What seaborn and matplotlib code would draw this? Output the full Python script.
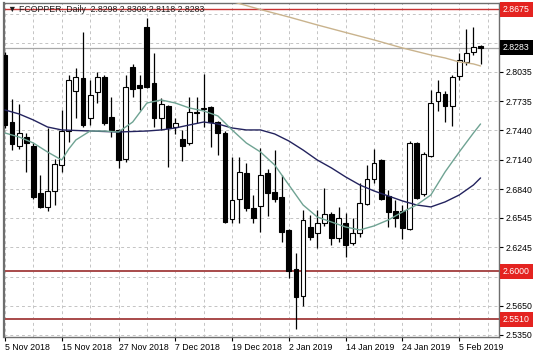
import matplotlib
matplotlib.use("Agg")
import matplotlib.pyplot as plt
import seaborn as sns
import numpy as np
import pandas as pd

# ---- data ----
opens = [2.8208, 2.7524, 2.7279, 2.7371, 2.7279, 2.6800, 2.6657, 2.6820, 2.7085, 2.7433,
         2.7841, 2.7974, 2.7565, 2.7831, 2.7984, 2.7575, 2.7443, 2.7147, 2.8086, 2.7902,
         2.8494, 2.7923, 2.7565, 2.7688, 2.7473, 2.7351, 2.7310, 2.7630, 2.7657, 2.7678,
         2.7524, 2.7412, 2.6534, 2.6738, 2.7004, 2.6646, 2.6667, 2.7004, 2.6810, 2.6759,
         2.6422, 2.6024, 2.5748, 2.6452, 2.6391, 2.6493, 2.6585, 2.6340, 2.6493, 2.6289,
         2.6391, 2.6687, 2.6942, 2.7136, 2.6769, 2.6616, 2.6616, 2.6432, 2.7310, 2.6789,
         2.7177, 2.7739, 2.7810, 2.7688, 2.7994, 2.8137, 2.8239, 2.8298]
highs = [2.8239, 2.7759, 2.7708, 2.7412, 2.7310, 2.6983, 2.7463, 2.7147, 2.7647, 2.8004,
         2.8076, 2.8443, 2.7953, 2.8035, 2.8004, 2.7780, 2.7453, 2.8004, 2.8117, 2.8004,
         2.8586, 2.8229, 2.7770, 2.7698, 2.7565, 2.7443, 2.7780, 2.7780, 2.8014, 2.7688,
         2.7535, 2.7433, 2.7167, 2.7167, 2.7106, 2.6779, 2.7259, 2.7045, 2.7238, 2.6983,
         2.6432, 2.6187, 2.6626, 2.6575, 2.6626, 2.6851, 2.6606, 2.6657, 2.6595, 2.6544,
         2.6902, 2.7085, 2.7249, 2.7150, 2.6830, 2.6728, 2.6677, 2.7325, 2.7320, 2.7218,
         2.7851, 2.7953, 2.7841, 2.8004, 2.8229, 2.8474, 2.8494, 2.8308]
lows = [2.7463, 2.7239, 2.7249, 2.7014, 2.6738, 2.6646, 2.6616, 2.6677, 2.7014, 2.7320,
        2.7565, 2.7473, 2.7494, 2.7718, 2.7494, 2.7371, 2.7055, 2.7116, 2.7780, 2.7647,
        2.7872, 2.7473, 2.7443, 2.7065, 2.7402, 2.7126, 2.7290, 2.7514, 2.7473, 2.7269,
        2.7187, 2.6493, 2.6493, 2.6493, 2.6616, 2.6493, 2.6401, 2.6565, 2.6708, 2.6299,
        2.5932, 2.5411, 2.5646, 2.6320, 2.6238, 2.6463, 2.6269, 2.6299, 2.6146, 2.6269,
        2.6350, 2.6677, 2.6902, 2.6728, 2.6452, 2.6452, 2.6330, 2.6422, 2.6738, 2.6769,
        2.7167, 2.7637, 2.7524, 2.7484, 2.7953, 2.8106, 2.8208, 2.8118]
closes = [2.7494, 2.7300, 2.7412, 2.7310, 2.6759, 2.6657, 2.6820, 2.7096, 2.7433, 2.7953,
          2.7984, 2.7494, 2.7800, 2.7984, 2.7514, 2.7443, 2.7136, 2.7882, 2.7861, 2.7872,
          2.7882, 2.7565, 2.7708, 2.7463, 2.7514, 2.7279, 2.7626, 2.7612, 2.7667, 2.7524,
          2.7412, 2.6503, 2.6728, 2.7014, 2.6646, 2.6544, 2.6983, 2.6800, 2.6738, 2.6401,
          2.6003, 2.5738, 2.6524, 2.6350, 2.6493, 2.6585, 2.6340, 2.6544, 2.6269, 2.6391,
          2.6697, 2.6942, 2.7106, 2.6738, 2.6606, 2.6544, 2.6442, 2.7310, 2.6748, 2.7198,
          2.7718, 2.7831, 2.7688, 2.7984, 2.8157, 2.8229, 2.8290, 2.8283]

date_labels = ["5 Nov 2018", "15 Nov 2018", "27 Nov 2018", "7 Dec 2018", "19 Dec 2018",
               "2 Jan 2019", "14 Jan 2019", "24 Jan 2019", "5 Feb 2019"]
date_label_bars = [0, 8, 16, 24, 32, 40, 48, 56, 64]

slow_ma_bars = [0, 2, 4, 6, 8, 12, 16, 20, 22, 24, 26, 28, 30, 32, 34, 36, 38, 40, 42, 44,
                46, 48, 50, 52, 54, 56, 58, 60, 62, 64, 66, 67]
slow_ma = [2.7647, 2.7606, 2.7545, 2.7473, 2.7443, 2.7432, 2.7422, 2.7432, 2.7443, 2.7463,
           2.7494, 2.7524, 2.7504, 2.7463, 2.7443, 2.7443, 2.7402, 2.7330, 2.7238, 2.7136,
           2.7055, 2.6963, 2.6881, 2.6820, 2.6769, 2.6718, 2.6677, 2.6657, 2.6708, 2.6779,
           2.6881, 2.6953]

fast_ma_bars = [0, 2, 4, 6, 8, 9, 10, 12, 14, 16, 18, 20, 22, 24, 26, 28, 30, 32, 34, 36,
                38, 40, 42, 44, 46, 48, 50, 52, 54, 56, 58, 60, 62, 64, 66, 67]
fast_ma = [2.7412, 2.7371, 2.7310, 2.7218, 2.7136, 2.7249, 2.7341, 2.7432, 2.7432, 2.7422,
           2.7524, 2.7718, 2.7749, 2.7718, 2.7667, 2.7637, 2.7586, 2.7443, 2.7310, 2.7218,
           2.7085, 2.6881, 2.6677, 2.6554, 2.6503, 2.6452, 2.6422, 2.6463, 2.6524, 2.6605,
           2.6677, 2.6779, 2.7014, 2.7218, 2.7412, 2.7504]

long_ma_bars = [31, 36, 40, 44, 48, 52, 56, 60, 62, 64, 66, 67]
long_ma = [2.8775, 2.8672, 2.8596, 2.8515, 2.8438, 2.8362, 2.8280, 2.8208, 2.8178, 2.8137,
           2.8117, 2.8096]

grid_levels = [2.8630, 2.8335, 2.8035, 2.7735, 2.7440, 2.7140, 2.6840, 2.6545, 2.6245,
               2.5945, 2.5650, 2.5350]
hidden_levels = [2.8630, 2.8335, 2.5945]   # labels covered by the price boxes
red_levels = [2.8675, 2.6000, 2.5510]
bid_level = 2.8283
symbol_text = "FCOPPER.,Daily"

# ---- drawing ----
sns.set_style("white")
plt.rcParams['font.family'] = ['Liberation Sans', 'DejaVu Sans']

fig = plt.figure(figsize=(5.36, 3.58), dpi=100)
fig.patch.set_facecolor("white")
ax = fig.add_axes([3.5 / 536, 21 / 358, 495.5 / 536, 334 / 358])

df = pd.DataFrame({"o": opens, "h": highs, "l": lows, "c": closes})
df["bar"] = np.arange(len(df))

# horizontal lines
for k, lv in enumerate(red_levels):
    ax.axhline(lv, color="#c83232" if k == 0 else "#a84a4a", lw=1.4 if k else 1.0, zorder=1.2)
ax.axhline(bid_level, color="#a8a8a8", lw=0.9, zorder=1.2)

# candles
ax.vlines(df["bar"], df["l"], df["h"], color="black", lw=0.9, zorder=3)
body_bottom = np.minimum(df["o"], df["c"])
body_h = np.abs(df["c"] - df["o"])
body_col = ["black" if c < o else "white" for o, c in zip(df["o"], df["c"])]
ax.bar(df["bar"], body_h, bottom=body_bottom, width=0.68, color=body_col,
       edgecolor="black", linewidth=0.8, zorder=4)

# moving averages
sns.lineplot(x=long_ma_bars, y=long_ma, ax=ax, color="#c9b38d", lw=1.0, zorder=5)
sns.lineplot(x=slow_ma_bars, y=slow_ma, ax=ax, color="#23235e", lw=1.0, zorder=5)
sns.lineplot(x=fast_ma_bars, y=fast_ma, ax=ax, color="#6fa393", lw=1.0, zorder=5)

ax.set_xlim(-0.2, 69.6)
ax.set_ylim(2.5329, 2.8739)

# y axis on right
ax.yaxis.tick_right()
ax.set_yticks(grid_levels)
ax.set_yticklabels(["" if v in hidden_levels else f"{v:.4f}" for v in grid_levels])
ax.tick_params(axis="y", which="both", right=True, left=False, length=3, width=0.8,
               pad=1.5, labelsize=6.3, colors="black")

# x axis
ax.set_xticks(date_label_bars)
ax.set_xticklabels(date_labels)
ax.set_xticks(np.arange(0, 70, 4), minor=True)
ax.tick_params(axis="x", which="major", bottom=True, length=3, width=0.8, pad=1.5,
               labelsize=6.3, colors="black")
ax.tick_params(axis="x", which="minor", length=0)
for t in ax.get_xticklabels():
    t.set_ha("left")

ax.set_xlabel("")
ax.set_ylabel("")

# grid
ax.set_axisbelow(True)
ax.grid(True, axis="y", which="major", color="#c4c4c4", lw=0.7, ls=(0, (3, 3)))
ax.grid(True, axis="x", which="both", color="#c4c4c4", lw=0.7, ls=(0, (3, 3)))

for s in ax.spines.values():
    s.set_color("#6e6e6e")
    s.set_linewidth(1.0)
ax.spines["left"].set_linewidth(1.6)

# price boxes on right axis
for k, lv in enumerate(red_levels):
    ax.annotate(f"{lv:.4f}", xy=(1, lv), xycoords=("axes fraction", "data"),
                xytext=(4, 0), textcoords="offset pixels", ha="left", va="center",
                fontsize=6.3, color="white", zorder=10, annotation_clip=False,
                bbox=dict(boxstyle="square,pad=0.32", fc="#e42320", ec="none"))
ax.annotate(f"{bid_level:.4f}", xy=(1, bid_level), xycoords=("axes fraction", "data"),
            xytext=(4, 0), textcoords="offset pixels", ha="left", va="center",
            fontsize=6.3, color="white", zorder=10, annotation_clip=False,
            bbox=dict(boxstyle="square,pad=0.32", fc="black", ec="none"))

# title text
last = f"{opens[-1]:.4f} {highs[-1]:.4f} {lows[-1]:.4f} {closes[-1]:.4f}"
ax.text(0.009, 0.981, "\u25bc " + symbol_text + "  " + last, transform=ax.transAxes,
        ha="left", va="center", fontsize=6.3, color="#202020", zorder=11)

fig.savefig("out.png", dpi=100)
